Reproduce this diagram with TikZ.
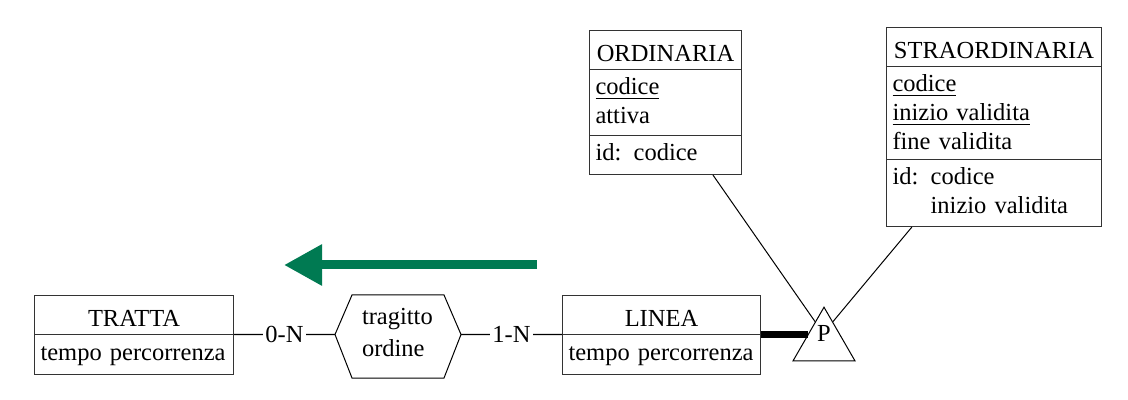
\documentclass[tikz,border=0pt]{standalone}
\usepackage{fontspec}
\setmainfont{Liberation Serif}
\usetikzlibrary{shapes.multipart,shapes.geometric,arrows.meta,calc}
\definecolor{arrowgreen}{RGB}{0,122,82}

% struts for the compartments
\newcommand{\entname}[1]{\hbox to\hsize{\hss\rule[-2.5pt]{0pt}{17pt}#1\hss}}
\newcommand{\attrtop}{\rule{0pt}{11.5pt}}
\newcommand{\attrend}[1][4.5pt]{\rule[-#1]{0pt}{#1}}

\tikzset{
  entity/.style={rectangle split, rectangle split parts=#1, draw=black!80, line width=0.5pt,
    inner xsep=3pt, inner ysep=1pt, align=left, anchor=north west},
  relship/.style={rectangle split, rectangle split parts=2, text width=36pt,
    inner xsep=4.75pt, inner ysep=0.5pt, align=left, anchor=north west},
  card/.style={fill=white, inner sep=1pt}
}

\begin{document}
\begin{tikzpicture}[x=0.5pt,y=-0.5pt,line width=0.5pt,font=\fontsize{12.25}{14.5}\selectfont]
    \useasboundingbox (0,0) rectangle (1128,400);

    % entities
    \node[entity=2, text width=93.5pt] (tratta) at (34,295)
        {\entname{TRATTA}\nodepart{two}\attrtop tempo percorrenza\attrend[6pt]};
    \node[entity=2, text width=93pt] (linea) at (562,295)
        {\entname{LINEA}\nodepart{two}\attrtop tempo percorrenza\attrend[6pt]};
    \node[entity=3, text width=70pt] (ord) at (589,30)
        {\entname{ORDINARIA}\nodepart{two}\attrtop\underline{codice}\\attiva\attrend
         \nodepart{three}\attrtop id: codice\attrend[5.5pt]};
    \node[entity=3, text width=101.5pt] (stra) at (886,27)
        {\entname{STRAORDINARIA}\nodepart{two}\attrtop\underline{codice}\\\underline{inizio validita}\\fine validita\attrend[3.5pt]
         \nodepart{three}\attrtop id: codice\\\hphantom{id: }inizio validita\attrend[5pt]};

    % relationship
    \node[relship] (tragitto) at (352,302) {\strut tragitto\nodepart{two}\strut ordine};
    \coordinate (tragitto-l) at ($(tragitto.one split west)+(-17,0)$);
    \coordinate (tragitto-r) at ($(tragitto.one split east)+(17,0)$);
    \draw ($(tragitto.north west)+(0,-7)$) -- ($(tragitto.north east)+(0,-7)$) -- (tragitto-r)
        -- ($(tragitto.south east)+(0,11)$) -- ($(tragitto.south west)+(0,11)$) -- (tragitto-l) -- cycle;

    \draw (tratta.one split east) -- node[card] {0-N} (tragitto-l);
    \draw (tragitto-r) -- node[card] {1-N} (linea.one split west);

    % is-a
    \node[regular polygon, regular polygon sides=3, draw, minimum size=35.8pt, inner sep=0pt] (part) at (824,343) {};
    \node (part-p) at (824,333) {P};
    \draw[line width=3.5pt] (linea.one split east) -- (linea.one split east -| part.side 1);
    \draw ($(ord.south west)!0.81!(ord.south east)$) -- ($(part.corner 1)!0.28!(part.corner 2)$);
    \draw ($(stra.south west)!0.12!(stra.south east)$) -- ($(part.corner 1)!0.28!(part.corner 3)$);

    % green arrow
    \coordinate (arr-start) at (537,265);
    \coordinate (arr-end) at (284,265);
    \draw[arrowgreen, line width=4.5pt, -{Triangle[length=19pt,width=19.5pt]}] (arr-start) -- (arr-end);
\end{tikzpicture}
\end{document}
